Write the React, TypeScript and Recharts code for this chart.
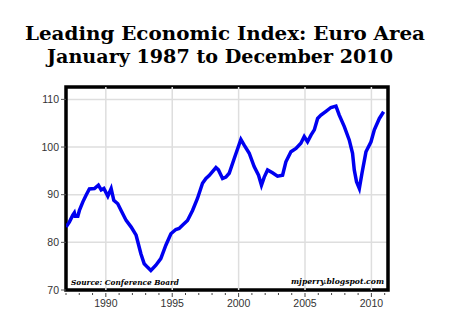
import { LineChart, Line, XAxis, YAxis, CartesianGrid, ReferenceLine, ReferenceArea } from 'recharts';

// decimal year of each reading
const dates = [
  1987.0, 1987.26, 1987.51, 1987.63, 1987.69, 1987.89, 1988.01, 1988.27, 1988.51, 1988.76,
  1989.14, 1989.44, 1989.65, 1989.85, 1990.15, 1990.4, 1990.6, 1990.9, 1991.15, 1991.53,
  1991.91, 1992.28, 1992.64, 1992.89, 1993.13, 1993.39, 1993.77, 1994.14, 1994.52, 1994.9,
  1995.27, 1995.52, 1995.77, 1996.15, 1996.53, 1996.9, 1997.28, 1997.54, 1997.78, 1998.29,
  1998.48, 1998.79, 1999.04, 1999.29, 1999.67, 2000.17, 2000.42, 2000.8, 2001.17, 2001.5,
  2001.72, 2001.93, 2002.18, 2002.55, 2002.93, 2003.31, 2003.56, 2003.94, 2004.32, 2004.69,
  2004.94, 2005.19, 2005.45, 2005.7, 2005.95, 2006.2, 2006.58, 2006.95, 2007.33, 2007.58,
  2007.96, 2008.33, 2008.58, 2008.71, 2008.88, 2009.09, 2009.29, 2009.59, 2009.97, 2010.22,
  2010.6, 2010.92
];

const lei = [
  83.2, 84.3, 85.7, 86.2, 85.5, 85.5, 86.7, 88.5, 89.9, 91.2,
  91.3, 92.0, 91.0, 91.3, 89.7, 91.3, 88.8, 88.1, 86.7, 84.6,
  83.2, 81.5, 77.6, 75.5, 74.8, 74.1, 75.2, 76.6, 79.4, 81.8,
  82.7, 82.9, 83.6, 84.6, 86.7, 89.2, 92.4, 93.4, 94.0, 95.7,
  95.2, 93.4, 93.7, 94.5, 97.6, 101.6, 100.4, 98.7, 95.9, 94.1,
  92.0, 93.7, 95.2, 94.6, 93.9, 94.1, 96.9, 99.0, 99.7, 100.8,
  102.2, 101.1, 102.5, 103.6, 106.0, 106.7, 107.5, 108.3, 108.6, 106.7,
  104.3, 101.5, 98.7, 95.2, 92.7, 91.3, 94.5, 99.0, 101.1, 103.6,
  106.0, 107.4
];

const yearTicks = Array.from({ length: 25 }, (_, i) => 1987 + i);
const majorYears = [1990, 1995, 2000, 2005, 2010];
const valueTicks = [70, 80, 90, 100, 110];

const data = dates.map((d, i) => ({ date: d, value: lei[i] }));

// tick y arrives 8px below the axis (default tickSize + tickMargin)
const XTick = (props: any) => {
  const { x, y, payload } = props;
  const major = payload.value % 5 === 0;
  return (
    <g>
      <line x1={x} x2={x} y1={y - 5} y2={y - (major ? 1 : 3)} stroke="#444" strokeWidth={1} />
      {major && (
        <text x={x} y={y + 9} textAnchor="middle" fontSize={10.5} fill="#333" fontFamily="Arial, 'Liberation Sans', sans-serif">
          {payload.value}
        </text>
      )}
    </g>
  );
};

export default function App() {
  return (
    <div style={{ position: 'absolute', left: 0, top: 0, width: 450, height: 330, background: '#fff' }}>
      <LineChart width={450} height={330} data={data} margin={{ top: 87, right: 62, bottom: 10, left: 20 }}>
        <CartesianGrid vertical={false} stroke="#dedede" strokeWidth={1.5} />
        {majorYears.map((yr) => (
          <ReferenceLine key={yr} x={yr} stroke="#dedede" strokeWidth={1.5} />
        ))}
        <XAxis
          type="number"
          dataKey="date"
          domain={[1987, 2011.25]}
          ticks={yearTicks}
          interval={0}
          allowDataOverflow
          axisLine={false}
          tickLine={false}
          tick={<XTick />}
          height={30}
        />
        <YAxis
          type="number"
          domain={[70, 112.6]}
          ticks={valueTicks}
          allowDataOverflow
          axisLine={false}
          tickSize={5}
          tickMargin={2}
          tickLine={{ stroke: '#555' }}
          tick={{ fontSize: 10.5, fill: '#333', fontFamily: "Arial, 'Liberation Sans', sans-serif" }}
          width={46}
        />
        <Line
          type="linear"
          dataKey="value"
          stroke="#0000f0"
          strokeWidth={3.5}
          dot={false}
          isAnimationActive={false}
        />
        <ReferenceArea x1={1987} x2={2011.25} y1={70} y2={112.6} fill="none" stroke="#000" strokeWidth={3.5} ifOverflow="visible" />
      </LineChart>
      <svg width={450} height={330} style={{ position: 'absolute', left: 0, top: 0, pointerEvents: 'none' }}>
        <text x={225} y={40} textAnchor="middle" fontFamily="'DejaVu Serif', serif" fontWeight="bold" fontSize={18} textLength={400} lengthAdjust="spacingAndGlyphs">
          Leading Economic Index: Euro Area
        </text>
        <text x={220} y={63} textAnchor="middle" fontFamily="'DejaVu Serif', serif" fontWeight="bold" fontSize={18.5} textLength={346} lengthAdjust="spacingAndGlyphs">
          January 1987 to December 2010
        </text>
        <text x={71} y={285} fontFamily="'DejaVu Serif', serif" fontWeight="bold" fontStyle="italic" fontSize={8} textLength={108} lengthAdjust="spacingAndGlyphs">
          Source: Conference Board
        </text>
        <text x={384} y={284} textAnchor="end" fontFamily="'DejaVu Serif', serif" fontWeight="bold" fontStyle="italic" fontSize={8} textLength={93} lengthAdjust="spacingAndGlyphs">
          mjperry.blogspot.com
        </text>
      </svg>
    </div>
  );
}
